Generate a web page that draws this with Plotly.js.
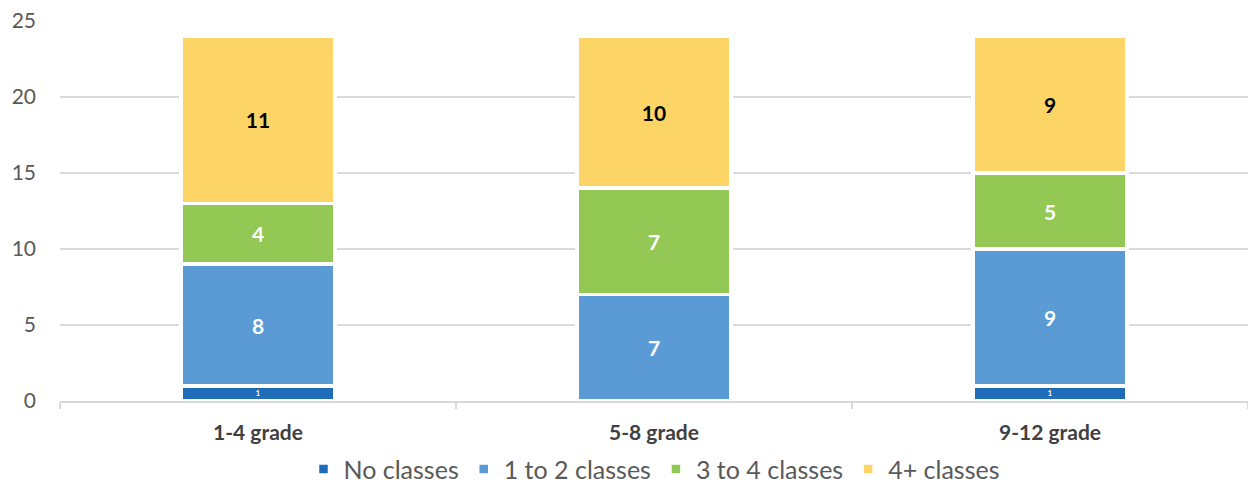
<!DOCTYPE html>
<html><head><meta charset="utf-8">
<script src="https://cdn.plot.ly/plotly-3.0.1.min.js"></script>
<style>html,body{margin:0;padding:0;background:#fff}#chart{width:1248px;height:485px}</style>
</head><body><div id="chart"></div>
<script>
const categories = ['1-4 grade', '5-8 grade', '9-12 grade'];
const seriesNames = ['No classes', '1 to 2 classes', '3 to 4 classes', '4+ classes'];
const noClasses = [1, 0, 1];
const oneToTwo = [8, 7, 9];
const threeToFour = [4, 7, 5];
const fourPlus = [11, 10, 9];
const yTicks = [0, 5, 10, 15, 20, 25];

const values = [noClasses, oneToTwo, threeToFour, fourPlus];
const colors = ['#1f6db8', '#5b9bd5', '#92c853', '#fdd567'];
const textColors = ['#ffffff', '#ffffff', '#ffffff', '#000000'];
const textSizes = [12, 21, 21, 21];

const traces = values.map((v, i) => ({
  type: 'bar',
  name: seriesNames[i],
  x: categories,
  y: v,
  marker: {color: colors[i], line: {color: '#ffffff', width: 3.5}},
  text: v.map(n => n > 0 ? String(n) : ''),
  textposition: 'inside',
  insidetextanchor: 'middle',
  textangle: 0,
  textfont: {family: 'Lato, sans-serif', size: textSizes[i], color: textColors[i], weight: 'bold'},
  hoverinfo: 'skip'
}));

const layout = {
  barmode: 'stack',
  bargap: 0.612,
  width: 1248, height: 485,
  margin: {l: 60, r: 0, t: 21, b: 84, autoexpand: false},
  paper_bgcolor: '#ffffff', plot_bgcolor: '#ffffff',
  font: {family: 'Lato, sans-serif', color: '#595959'},
  xaxis: {
    type: 'category',
    tickfont: {size: 21, color: '#404040', weight: 'bold'},
    showline: true, linecolor: '#d9d9d9', linewidth: 2,
    ticks: 'outside', tickson: 'boundaries', ticklen: 6, tickcolor: '#d9d9d9', tickwidth: 2,
    showgrid: false, zeroline: false, ticklabelstandoff: 12
  },
  yaxis: {
    range: [0, 25],
    tickvals: yTicks,
    tickfont: {size: 21, color: '#595959'},
    showgrid: true, gridcolor: '#d9d9d9', gridwidth: 2,
    zeroline: false, showline: false, ticklabelstandoff: 23
  },
  showlegend: true,
  legend: {
    orientation: 'h', x: 0.5, xanchor: 'center', y: -0.24, yanchor: 'bottom',
    bgcolor: 'rgba(0,0,0,0)',
    font: {size: 25, color: '#595959'}, traceorder: 'normal',
    itemwidth: 30
  }
};

Plotly.newPlot('chart', traces, layout, {displayModeBar: false, staticPlot: true});
</script></body></html>
